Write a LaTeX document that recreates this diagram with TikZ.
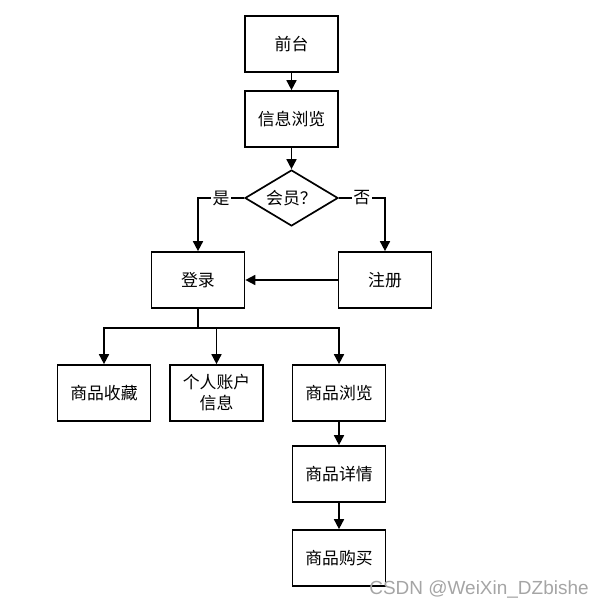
\documentclass[tikz,border=0pt]{standalone}
\usepackage{fontspec}
\setmainfont{Noto Sans CJK SC}
\newfontfamily\markfont{Liberation Sans}
\usepackage{tikz}
\usetikzlibrary{positioning, arrows.meta, shapes.geometric, calc}
\usepackage{xcolor}
\definecolor{markgray}{RGB}{165, 165, 165}

\begin{document}
\begin{tikzpicture}[
    box/.style={rectangle, draw=black, line width=1.2pt, minimum width=2.325cm, minimum height=1.4cm, align=center, font=\fontsize{12}{15}\selectfont},
    choice/.style={diamond, draw=black, line width=1.2pt, aspect=1.66, minimum width=2.325cm, minimum height=1.4cm, inner sep=0pt, font=\fontsize{12}{15}\selectfont},
    arrow/.style={-{Triangle[length=2.5mm, width=2.5mm]}, line width=1.2pt},
    tag/.style={fill=white, inner sep=1pt, font=\fontsize{12}{15}\selectfont}
]
    \useasboundingbox (0,0) rectangle (15,15.2);

    \node[box] (front) at (7.2875,14.1) {前台};
    \node[box] (info) at (7.2875,12.225) {信息浏览};
    \node[choice] (member) at (7.2875,10.25) {会员？};
    \node[box] (login) at (4.95,8.2) {登录};
    \node[box] (signup) at (9.625,8.2) {注册};

    \node[box] (fav) at (2.6,5.375) {商品收藏};
    \node[box] (account) at (5.4125,5.375) {个人账户\\信息};
    \node[box] (browse) at (8.475,5.375) {商品浏览};
    \node[box] (detail) at (8.475,3.35) {商品详情};
    \node[box] (buy) at (8.475,1.25) {商品购买};

    \draw[arrow] (front) -- (info);
    \draw[arrow] (info) -- (member);
    \draw[arrow] (member.west) -| node[tag, pos=0.25] {是} (login.north);
    \draw[arrow] (member.east) -| node[tag, pos=0.25] {否} (signup.north);
    \draw[arrow] (signup) -- (login);

    \coordinate (split) at ($(login.south)+(0,-0.475)$);
    \draw[line width=1.2pt] (login.south) -- (split);
    \draw[arrow] (split) -| (fav.north);
    \draw[arrow] (split) -| (account.north);
    \draw[arrow] (split) -| (browse.north);
    \draw[arrow] (browse) -- (detail);
    \draw[arrow] (detail) -- (buy);

    \node[text=markgray, font=\markfont\fontsize{13.5}{15}\selectfont] (mark) at (11.975,0.45) {CSDN @WeiXin\_DZbishe};
\end{tikzpicture}
\end{document}
